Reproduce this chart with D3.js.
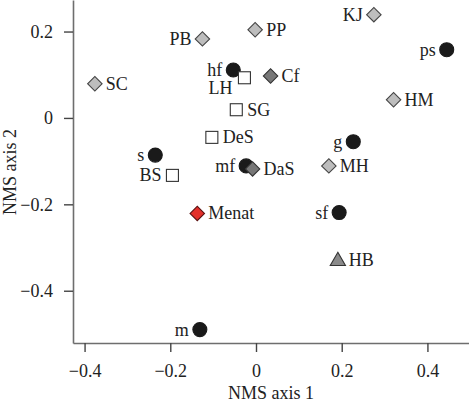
<!DOCTYPE html>
<html>
<head>
<meta charset="utf-8">
<script src="https://cdn.jsdelivr.net/npm/d3@7"></script>
<style>
  html, body { margin: 0; padding: 0; background: #fff; }
  svg { display: block; }
  text { font-family: "Liberation Serif", "Times New Roman", serif; fill: #222; }
</style>
</head>
<body>
<script>
// ---- data ----
const labels = ["SC","PB","PP","KJ","ps","hf","LH","Cf","SG","HM","DeS","s","g","mf","DaS","MH","BS","Menat","sf","HB","m"];
const axis1  = [-0.376,-0.125,-0.002,0.275,0.445,-0.053,-0.027,0.034,-0.046,0.321,-0.103,-0.235,0.227,-0.023,-0.008,0.170,-0.195,-0.137,0.194,0.191,-0.131];
const axis2  = [0.079,0.183,0.204,0.239,0.158,0.111,0.093,0.097,0.019,0.042,-0.045,-0.086,-0.055,-0.111,-0.118,-0.111,-0.133,-0.221,-0.219,-0.329,-0.490];
// group: circle (black), square (open), diamondLight, diamondDark, diamondRed, triangle
const groups = ["diamondLight","diamondLight","diamondLight","diamondLight","circle","circle","square","diamondDark","square","diamondLight","square","circle","circle","circle","diamondDark","diamondLight","square","diamondRed","circle","triangle","circle"];
const labelSide = ["right","left","right","left","left","left","below","right","right","right","right","left","left","left","right","right","left","right","left","right","left"];
const xTicks = [-0.4,-0.2,0,0.2,0.4];
const yTicks = [-0.4,-0.2,0,0.2];
const xTitle = "NMS axis 1";
const yTitle = "NMS axis 2";

// ---- chart ----
const W = 469, H = 404;
const svg = d3.select("body").append("svg").attr("width", W).attr("height", H);

const x = d3.scaleLinear().domain([-0.427, 0.497]).range([73, 469]);
const y = d3.scaleLinear().domain([-0.521, 0.273]).range([343, 0]);
const fmt = d => d === 0 ? "0" : d3.format(".1f")(d);

const gx = svg.append("g").attr("transform", "translate(0,343)")
  .call(d3.axisBottom(x).tickValues(xTicks).tickFormat(fmt).tickSize(9).tickPadding(12).tickSizeOuter(0));
const gy = svg.append("g").attr("transform", "translate(73,0)")
  .call(d3.axisLeft(y).tickValues(yTicks).tickFormat(fmt).tickSize(9).tickPadding(11).tickSizeOuter(0));
[gx, gy].forEach(g => {
  g.select(".domain").attr("stroke", "#6e6e6e").attr("stroke-width", 1.6);
  g.selectAll(".tick line").attr("stroke", "#444").attr("stroke-width", 1.4);
  g.selectAll(".tick text").attr("font-size", 18).attr("font-family", "Liberation Serif").attr("fill", "#222");
});

svg.append("text").attr("x", 271).attr("y", 399).attr("text-anchor", "middle")
  .attr("font-size", 18).text(xTitle);
svg.append("text").attr("transform", "translate(16,172) rotate(-90)").attr("text-anchor", "middle")
  .attr("font-size", 18).text(yTitle);

const pts = labels.map((l, i) => ({label: l, x: axis1[i], y: axis2[i], g: groups[i], side: labelSide[i]}));
const order = {circle: 0, square: 1, diamondLight: 2, diamondDark: 2, diamondRed: 2, triangle: 3};
const sorted = pts.slice().sort((a, b) => order[a.g] - order[b.g]);

const style = {
  circle:       {fill: "#1a1a1a", stroke: "#1a1a1a"},
  square:       {fill: "#ffffff", stroke: "#333"},
  diamondLight: {fill: "#bdbdbd", stroke: "#444"},
  diamondDark:  {fill: "#777777", stroke: "#333"},
  diamondRed:   {fill: "#e3302a", stroke: "#5a1010"},
  triangle:     {fill: "#8a8a8a", stroke: "#333"}
};

const mk = svg.append("g");
sorted.forEach(p => {
  const cx = x(p.x), cy = y(p.y), s = style[p.g];
  let el;
  if (p.g === "circle") {
    el = mk.append("circle").attr("cx", cx).attr("cy", cy).attr("r", 7);
  } else if (p.g === "square") {
    el = mk.append("rect").attr("x", cx - 6).attr("y", cy - 6).attr("width", 12).attr("height", 12);
  } else if (p.g === "triangle") {
    el = mk.append("path").attr("d", d3.symbol(d3.symbolTriangle, 100)())
      .attr("transform", `translate(${cx},${cy + 1})`);
  } else {
    el = mk.append("path").attr("d", d3.symbol(d3.symbolSquare, 104)())
      .attr("transform", `translate(${cx},${cy}) rotate(45)`);
  }
  el.attr("fill", s.fill).attr("stroke", s.stroke).attr("stroke-width", 1.1);
});

const lb = svg.append("g");
pts.forEach(p => {
  const cx = x(p.x), cy = y(p.y);
  const t = lb.append("text").attr("font-size", 18).text(p.label);
  if (p.side === "right") {
    t.attr("x", cx + 11).attr("y", cy + 6).attr("text-anchor", "start");
  } else if (p.side === "left") {
    t.attr("x", cx - 11).attr("y", cy + 6).attr("text-anchor", "end");
  } else {
    t.attr("x", cx - 12).attr("y", cy + 16).attr("text-anchor", "end");
  }
});
</script>
</body>
</html>
